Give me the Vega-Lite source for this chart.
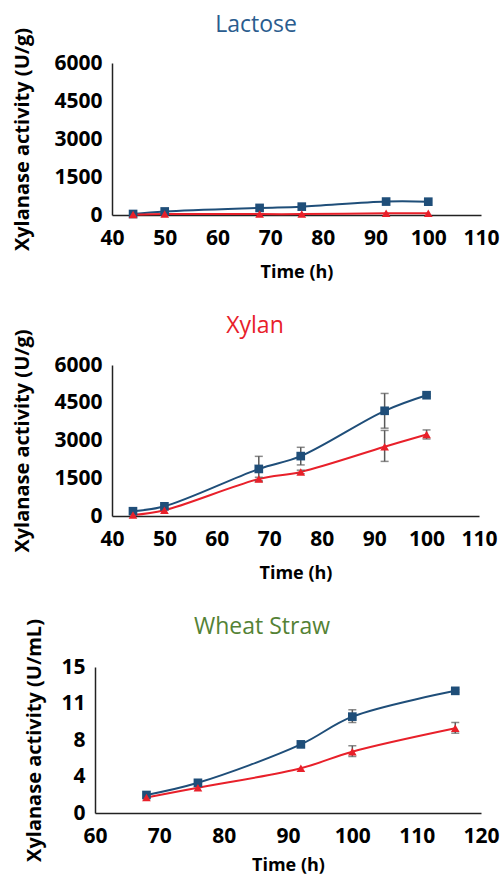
{
  "$schema": "https://vega.github.io/schema/vega-lite/v6.json",
  "padding": {"left": 0, "top": 14, "right": 0, "bottom": 0},
  "background": "white",
  "data": {"values": [
    {"panel": "Lactose", "series": "s1", "time": 44, "value": 40},
    {"panel": "Lactose", "series": "s1", "time": 50, "value": 140},
    {"panel": "Lactose", "series": "s1", "time": 68, "value": 280},
    {"panel": "Lactose", "series": "s1", "time": 76, "value": 330},
    {"panel": "Lactose", "series": "s1", "time": 92, "value": 530},
    {"panel": "Lactose", "series": "s1", "time": 100, "value": 525},
    {"panel": "Lactose", "series": "s2", "time": 44, "value": 15},
    {"panel": "Lactose", "series": "s2", "time": 50, "value": 40},
    {"panel": "Lactose", "series": "s2", "time": 68, "value": 35},
    {"panel": "Lactose", "series": "s2", "time": 76, "value": 35},
    {"panel": "Lactose", "series": "s2", "time": 92, "value": 70},
    {"panel": "Lactose", "series": "s2", "time": 100, "value": 70},
    {"panel": "Xylan", "series": "s1", "time": 44, "value": 190, "lo": 120, "hi": 260},
    {"panel": "Xylan", "series": "s1", "time": 50, "value": 385, "lo": 320, "hi": 450},
    {"panel": "Xylan", "series": "s1", "time": 68, "value": 1870, "lo": 1370, "hi": 2370},
    {"panel": "Xylan", "series": "s1", "time": 76, "value": 2380, "lo": 2030, "hi": 2730},
    {"panel": "Xylan", "series": "s1", "time": 92, "value": 4180, "lo": 3490, "hi": 4870},
    {"panel": "Xylan", "series": "s1", "time": 100, "value": 4800, "lo": 4750, "hi": 4850},
    {"panel": "Xylan", "series": "s2", "time": 44, "value": 40},
    {"panel": "Xylan", "series": "s2", "time": 50, "value": 230},
    {"panel": "Xylan", "series": "s2", "time": 68, "value": 1470, "lo": 1400, "hi": 1540},
    {"panel": "Xylan", "series": "s2", "time": 76, "value": 1750, "lo": 1680, "hi": 1820},
    {"panel": "Xylan", "series": "s2", "time": 92, "value": 2750, "lo": 2170, "hi": 3400},
    {"panel": "Xylan", "series": "s2", "time": 100, "value": 3240, "lo": 3060, "hi": 3420},
    {"panel": "Wheat Straw", "series": "s1", "time": 68, "value": 1.85},
    {"panel": "Wheat Straw", "series": "s1", "time": 76, "value": 3.1},
    {"panel": "Wheat Straw", "series": "s1", "time": 92, "value": 7.05},
    {"panel": "Wheat Straw", "series": "s1", "time": 100, "value": 9.9, "lo": 9.3, "hi": 10.6},
    {"panel": "Wheat Straw", "series": "s1", "time": 116, "value": 12.55, "lo": 12.4, "hi": 12.7},
    {"panel": "Wheat Straw", "series": "s2", "time": 68, "value": 1.6},
    {"panel": "Wheat Straw", "series": "s2", "time": 76, "value": 2.6},
    {"panel": "Wheat Straw", "series": "s2", "time": 92, "value": 4.6},
    {"panel": "Wheat Straw", "series": "s2", "time": 100, "value": 6.3, "lo": 5.8, "hi": 6.9},
    {"panel": "Wheat Straw", "series": "s2", "time": 116, "value": 8.7, "lo": 8.2, "hi": 9.3}
  ]},
  "config": {
    "view": {"stroke": null},
    "font": "Open Sans",
    "axis": {
      "grid": false, "ticks": false, "domainColor": "#222", "domainWidth": 1.5,
      "labelFont": "Open Sans", "labelFontWeight": "bold", "labelFontSize": 21, "labelColor": "#000",
      "labelFlush": false, "labelOverlap": false,
      "titleFont": "Open Sans", "titleFontWeight": "bold", "titleColor": "#000"
    },
    "axisX": {"labelPadding": 12, "titlePadding": 15, "titleFontSize": 18},
    "axisY": {"labelPadding": 10, "titlePadding": 21, "titleFontSize": 20},
    "title": {"fontSize": 23, "fontWeight": "normal", "font": "Open Sans", "anchor": "middle", "frame": "bounds"},
    "legend": {"disable": true}
  },
  "spacing": 33,
  "vconcat": [
    {
      "spacing": 0,
      "hconcat": [
        {"width": 12, "height": 1, "transform": [{"filter": "false"}], "mark": {"type": "point", "opacity": 0}},
        {
          "title": {"text": "Lactose", "color": "#2A5C8E", "offset": -10},
          "width": 369, "height": 152,
          "transform": [{"filter": "datum.panel === 'Lactose'"}],
          "encoding": {
            "x": {"field": "time", "type": "quantitative", "scale": {"domain": [40, 110], "nice": false, "zero": false},
                  "axis": {"values": [40, 50, 60, 70, 80, 90, 100, 110], "title": "Time (h)"}},
            "y": {"field": "value", "type": "quantitative", "scale": {"domain": [0, 6000], "nice": false},
                  "axis": {"values": [0, 1500, 3000, 4500, 6000], "format": "d", "title": "Xylanase activity (U/g)"}},
            "color": {"field": "series", "type": "nominal", "scale": {"domain": ["s1", "s2"], "range": ["#1F4E79", "#E8202A"]}}
          },
          "layer": [
            {"mark": {"type": "line", "interpolate": "catmull-rom", "strokeWidth": 2}},
            {"mark": {"type": "point", "filled": true, "opacity": 1},
             "encoding": {"shape": {"field": "series", "type": "nominal", "scale": {"domain": ["s1", "s2"], "range": ["square", "triangle-up"]}},
                          "size": {"value": 75}}}
          ]
        }
      ]
    },
    {
      "spacing": 0,
      "hconcat": [
        {"width": 12, "height": 1, "transform": [{"filter": "false"}], "mark": {"type": "point", "opacity": 0}},
        {
          "title": {"text": "Xylan", "color": "#E8202A", "offset": -9},
          "width": 367, "height": 151,
          "transform": [{"filter": "datum.panel === 'Xylan'"}],
          "encoding": {
            "x": {"field": "time", "type": "quantitative", "scale": {"domain": [40, 110], "nice": false, "zero": false},
                  "axis": {"values": [40, 50, 60, 70, 80, 90, 100, 110], "title": "Time (h)"}},
            "y": {"field": "value", "type": "quantitative", "scale": {"domain": [0, 6000], "nice": false},
                  "axis": {"values": [0, 1500, 3000, 4500, 6000], "format": "d", "title": "Xylanase activity (U/g)"}},
            "color": {"field": "series", "type": "nominal", "scale": {"domain": ["s1", "s2"], "range": ["#1F4E79", "#E8202A"]}}
          },
          "layer": [
            {"mark": {"type": "line", "interpolate": "catmull-rom", "strokeWidth": 2}},
            {"transform": [{"filter": "datum.lo != null"}],
             "mark": {"type": "errorbar", "ticks": {"size": 8, "thickness": 1.5}, "rule": {"strokeWidth": 1.5}},
             "encoding": {
               "y": {"field": "lo", "type": "quantitative",
                     "axis": {"values": [0, 1500, 3000, 4500, 6000], "format": "d", "title": "Xylanase activity (U/g)"}},
               "y2": {"field": "hi"},
               "color": {"value": "#595959"}
             }},
            {"mark": {"type": "point", "filled": true, "opacity": 1},
             "encoding": {"shape": {"field": "series", "type": "nominal", "scale": {"domain": ["s1", "s2"], "range": ["square", "triangle-up"]}},
                          "size": {"value": 75}}}
          ]
        }
      ]
    },
    {
      "spacing": 0,
      "hconcat": [
        {"width": 24, "height": 1, "transform": [{"filter": "false"}], "mark": {"type": "point", "opacity": 0}},
        {
          "title": {"text": "Wheat Straw", "color": "#548235", "offset": -20},
          "width": 386, "height": 146,
          "transform": [{"filter": "datum.panel === 'Wheat Straw'"}],
          "encoding": {
            "x": {"field": "time", "type": "quantitative", "scale": {"domain": [60, 120], "nice": false, "zero": false},
                  "axis": {"values": [60, 70, 80, 90, 100, 110, 120], "title": "Time (h)", "titlePadding": 10}},
            "y": {"field": "value", "type": "quantitative", "scale": {"domain": [0, 15], "nice": false},
                  "axis": {"values": [0, 3.75, 7.5, 11.25, 15], "format": ".0f", "title": "Xylanase activity (U/mL)", "labelPadding": 10, "titlePadding": 16}},
            "color": {"field": "series", "type": "nominal", "scale": {"domain": ["s1", "s2"], "range": ["#1F4E79", "#E8202A"]}}
          },
          "layer": [
            {"mark": {"type": "line", "interpolate": "catmull-rom", "strokeWidth": 2}},
            {"transform": [{"filter": "datum.lo != null"}],
             "mark": {"type": "errorbar", "ticks": {"size": 8, "thickness": 1.5}, "rule": {"strokeWidth": 1.5}},
             "encoding": {
               "y": {"field": "lo", "type": "quantitative",
                     "axis": {"values": [0, 3.75, 7.5, 11.25, 15], "format": ".0f", "title": "Xylanase activity (U/mL)", "labelPadding": 10, "titlePadding": 16}},
               "y2": {"field": "hi"},
               "color": {"value": "#595959"}
             }},
            {"mark": {"type": "point", "filled": true, "opacity": 1},
             "encoding": {"shape": {"field": "series", "type": "nominal", "scale": {"domain": ["s1", "s2"], "range": ["square", "triangle-up"]}},
                          "size": {"value": 75}}}
          ]
        }
      ]
    }
  ]
}
